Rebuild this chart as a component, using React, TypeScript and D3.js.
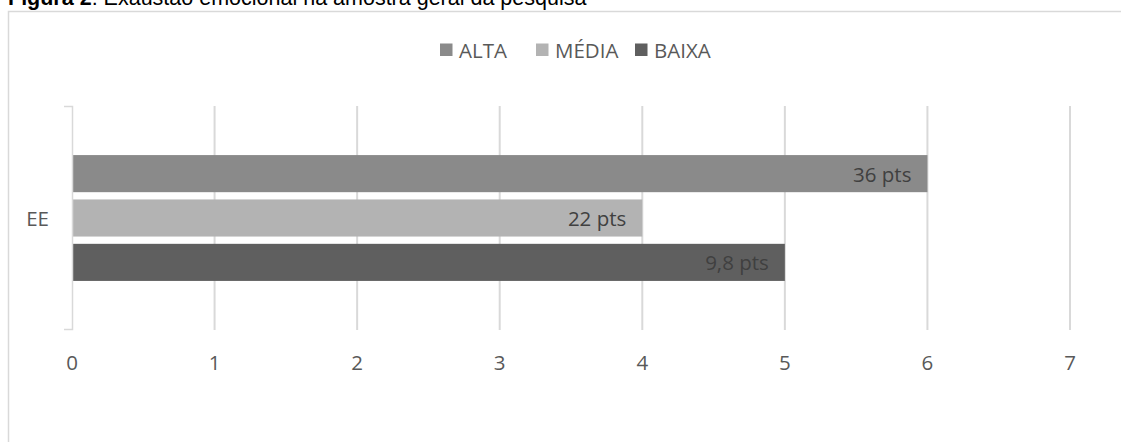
import React from 'react'
import * as d3 from 'd3'

const categories = ['EE']
const seriesNames = ['ALTA', 'MÉDIA', 'BAIXA']
const seriesValues = [6, 4, 5]
const seriesLabels = ['36 pts', '22 pts', '9,8 pts']
const seriesColors = ['#8a8a8a', '#b3b3b3', '#5f5f5f']
const xTickValues = [0, 1, 2, 3, 4, 5, 6, 7]

function App() {
  const width = 1121
  const height = 442
  const margin = { top: 106, right: 51, bottom: 112, left: 72 }
  const innerW = width - margin.left - margin.right
  const innerH = height - margin.top - margin.bottom

  const font = '"Open Sans", sans-serif'
  const fontSize = 20.5

  const xScale = d3.scaleLinear().domain([0, 7]).range([0, innerW])

  // one band for the single category, then the three series inside it
  const yScale = d3.scaleBand().domain(categories).range([0, innerH]).paddingInner(0).paddingOuter(0.39)
  const ySub = d3
    .scaleBand()
    .domain(seriesNames)
    .range([0, yScale.bandwidth()])
    .paddingInner(0.164)
    .paddingOuter(0)

  // legend positions
  const legendX = [440, 536, 635]

  return (
    <svg
      width={width}
      height={height}
      style={{ position: 'absolute', left: 0, top: 0, background: '#fff' }}
    >
      {/* title, cut off at the top */}
      <text x={8} y={4.5} fontFamily='"Liberation Sans", Arial, sans-serif' fontSize={21.5} fill="#000">
        <tspan fontWeight="bold">Figura 2</tspan>
        <tspan>: Exaustão emocional na amostra geral da pesquisa</tspan>
      </text>

      {/* chart frame */}
      <path d={`M 8.5 ${height + 2} V 11.5 H ${width + 2}`} fill="none" stroke="#d9d9d9" strokeWidth={1.5} />

      {/* legend */}
      {seriesNames.map((name, i) => (
        <g key={name} transform={`translate(${legendX[i]} 43.5)`}>
          <rect width={12.5} height={12.5} fill={seriesColors[i]} />
          <text x={19} y={6.5} dominantBaseline="central" fontFamily={font} fontSize={fontSize} fill="#595959">
            {name}
          </text>
        </g>
      ))}

      <g transform={`translate(${margin.left} ${margin.top})`}>
        {/* gridlines */}
        {xTickValues.map(tick => (
          <g key={tick} transform={`translate(${xScale(tick)} 0)`}>
            {tick > 0 && <path d={`M 0 0 V ${innerH}`} stroke="#d9d9d9" strokeWidth={2} />}
            <text y={innerH + 32} textAnchor="middle" dominantBaseline="central" fontFamily={font} fontSize={fontSize} fill="#595959">
              {tick}
            </text>
          </g>
        ))}

        {/* bars */}
        {categories.map(cat => (
          <g key={cat} transform={`translate(0 ${yScale(cat)})`}>
            {seriesNames.map((name, i) => (
              <g key={name} transform={`translate(0 ${ySub(name)})`}>
                <rect width={xScale(seriesValues[i])} height={ySub.bandwidth()} fill={seriesColors[i]} />
                <text
                  x={xScale(seriesValues[i]) - 16}
                  y={ySub.bandwidth() / 2}
                  textAnchor="end"
                  dominantBaseline="central"
                  fontFamily={font}
                  fontSize={fontSize}
                  fill="#404040"
                >
                  {seriesLabels[i]}
                </text>
              </g>
            ))}
          </g>
        ))}

        {/* category axis with bracket ticks */}
        <path d={`M -8 0.5 H 0.5 V ${innerH - 0.5} H -8`} fill="none" stroke="#d9d9d9" strokeWidth={1.5} />
        {categories.map(cat => (
          <text
            key={cat}
            x={-23}
            y={(yScale(cat) ?? 0) + yScale.bandwidth() / 2}
            textAnchor="end"
            dominantBaseline="central"
            fontFamily={font}
            fontSize={fontSize}
            fill="#595959"
          >
            {cat}
          </text>
        ))}
      </g>
    </svg>
  )
}

export default App
